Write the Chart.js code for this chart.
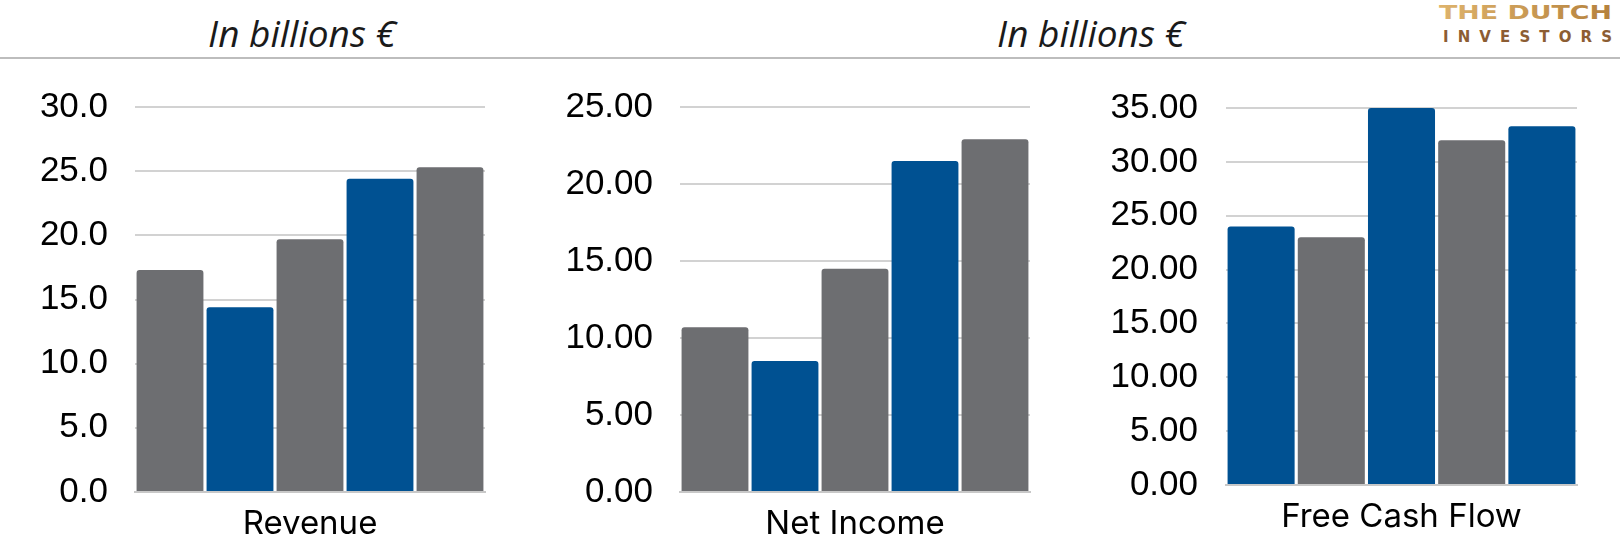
<!DOCTYPE html>
<html>
<head>
<meta charset="utf-8">
<script src="https://cdn.jsdelivr.net/npm/chart.js"></script>
<style>
  html, body { margin: 0; padding: 0; background: #fff; }
  body { width: 1620px; height: 549px; position: relative; overflow: hidden; }
  .title { position: absolute; top: 7px; font-family: "Open Sans", Lato, sans-serif; font-style: italic; font-size: 37px; color: #1a1a1a; transform: translateX(-50%); white-space: nowrap; }
  .rule { position: absolute; left: 0; top: 57px; width: 1620px; height: 2px; background: #bdbdbd; }
  .panel { position: absolute; top: 59px; height: 490px; }
  .logo { position: absolute; left: 1430px; top: 0px; }
</style>
</head>
<body>
<div class="title" style="left:302px">In billions €</div>
<div class="title" style="left:1091px">In billions €</div>
<svg class="logo" width="190" height="50">
  <defs>
    <linearGradient id="gold" x1="0" x2="1" y1="0" y2="0">
      <stop offset="0" stop-color="#deb36c"/>
      <stop offset="1" stop-color="#b5813d"/>
    </linearGradient>
  </defs>
  <text x="9" y="18.5" font-family="DejaVu Sans" font-weight="bold" font-size="19" fill="url(#gold)"
        textLength="173" lengthAdjust="spacingAndGlyphs">THE DUTCH</text>
  <text x="13" y="42" font-family="DejaVu Sans" font-weight="bold" font-size="15" fill="#8c5d33"
        textLength="169" lengthAdjust="spacing">INVESTORS</text>
</svg>
<div class="rule"></div>

<div class="panel" style="left:0px;width:495px"><canvas id="c1"></canvas></div>
<div class="panel" style="left:530px;width:510px"><canvas id="c2"></canvas></div>
<div class="panel" style="left:1060px;width:560px"><canvas id="c3"></canvas></div>

<script>
const GRAY = '#6d6e71';
const BLUE = '#005192';

const revenue = [17.3, 14.4, 19.7, 24.4, 25.3];
const revenueColors = [GRAY, BLUE, GRAY, BLUE, GRAY];

const netIncome = [10.7, 8.5, 14.5, 21.5, 22.9];
const netIncomeColors = [GRAY, BLUE, GRAY, BLUE, GRAY];

const freeCashFlow = [24.0, 23.0, 35.0, 32.0, 33.3];
const freeCashFlowColors = [BLUE, GRAY, BLUE, GRAY, BLUE];

function makeChart(id, label, values, colors, opts) {
  new Chart(document.getElementById(id), {
    type: 'bar',
    data: {
      labels: [label],
      datasets: values.map((v, i) => ({
        data: [v],
        backgroundColor: colors[i],
        borderRadius: { topLeft: 3, topRight: 3, bottomLeft: 0, bottomRight: 0 },
        borderSkipped: false,
        categoryPercentage: 1.0,
        barPercentage: 0.955
      }))
    },
    options: {
      responsive: true,
      maintainAspectRatio: false,
      animation: false,
      events: [],
      layout: { padding: { top: 25, right: opts.right, left: 0, bottom: 0 } },
      plugins: { legend: { display: false }, tooltip: { enabled: false } },
      scales: {
        x: {
          grid: { display: false, drawTicks: false },
          border: { display: true, color: '#c8c8c8', width: 2 },
          ticks: { color: '#000', padding: 12, font: { family: 'Inter, "Liberation Sans", sans-serif', size: 33 } },
          afterFit: s => { s.height = opts.xh; }
        },
        y: {
          min: 0,
          max: opts.max,
          ticks: {
            stepSize: 5,
            padding: opts.pad,
            color: '#000',
            font: { family: '"Liberation Sans", Arial, sans-serif', size: 35 },
            callback: v => Number(v).toFixed(opts.dec)
          },
          grid: { color: '#d2d2d2', lineWidth: 2, drawTicks: false },
          border: { display: false },
          afterFit: s => { s.width = opts.yw; }
        }
      }
    }
  });
}

makeChart('c1', 'Revenue', revenue, revenueColors, { max: 30, dec: 1, yw: 135, right: 10, xh: 57, pad: 27 });
makeChart('c2', 'Net Income', netIncome, netIncomeColors, { max: 25, dec: 2, yw: 150, right: 10, xh: 57, pad: 27 });
makeChart('c3', 'Free Cash Flow', freeCashFlow, freeCashFlowColors, { max: 35, dec: 2, yw: 166, right: 43, xh: 64, pad: 28 });
</script>
</body>
</html>
